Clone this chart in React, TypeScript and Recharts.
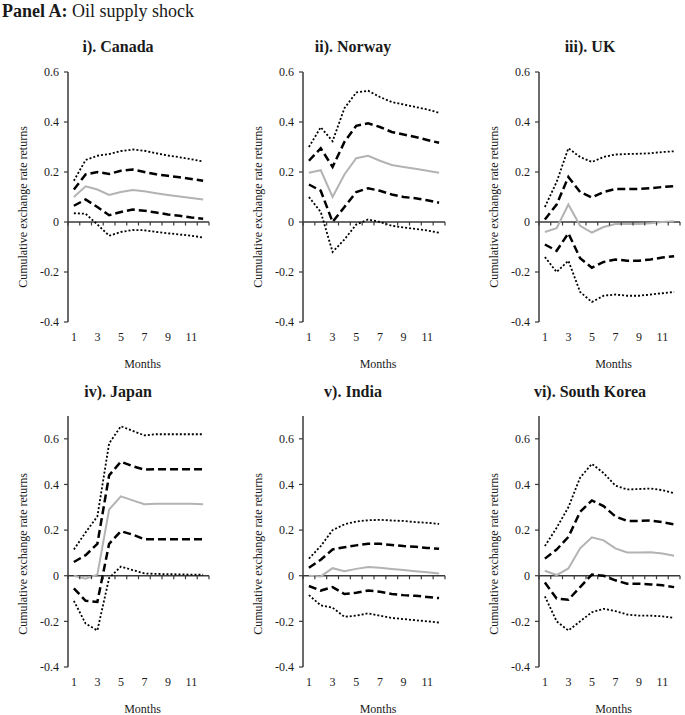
import React from 'react';
import { LineChart, Line, XAxis, YAxis, ReferenceLine, ReferenceDot } from 'recharts';

const FONT = "'Liberation Serif', 'Times New Roman', serif";
const AXIS = '#3a3a3a';
const TEXT = '#1a1a1a';

const months = [1, 2, 3, 4, 5, 6, 7, 8, 9, 10, 11, 12];
const xTicks = [1, 3, 5, 7, 9, 11];
const yTicks = [-0.4, -0.2, 0, 0.2, 0.4, 0.6];
const boundaries = [0.5, 1.5, 2.5, 3.5, 4.5, 5.5, 6.5, 7.5, 8.5, 9.5, 10.5, 11.5, 12.5];

// Canada
const canadaHi2 = [0.165, 0.248, 0.265, 0.272, 0.284, 0.29, 0.285, 0.275, 0.266, 0.259, 0.251, 0.242];
const canadaHi1 = [0.13, 0.19, 0.2, 0.192, 0.205, 0.21, 0.2, 0.191, 0.185, 0.179, 0.172, 0.165];
const canadaMid = [0.1, 0.143, 0.13, 0.108, 0.12, 0.128, 0.123, 0.115, 0.108, 0.102, 0.096, 0.09];
const canadaLo1 = [0.065, 0.09, 0.06, 0.027, 0.04, 0.05, 0.045, 0.038, 0.03, 0.025, 0.018, 0.013];
const canadaLo2 = [0.035, 0.033, -0.01, -0.055, -0.04, -0.032, -0.033, -0.04, -0.045, -0.05, -0.055, -0.062];

// Norway
const norwayHi2 = [0.3, 0.379, 0.323, 0.455, 0.518, 0.525, 0.5, 0.48, 0.47, 0.46, 0.45, 0.437];
const norwayHi1 = [0.245, 0.295, 0.22, 0.32, 0.385, 0.395, 0.38, 0.36, 0.35, 0.34, 0.328, 0.317];
const norwayMid = [0.197, 0.207, 0.1, 0.19, 0.255, 0.265, 0.245, 0.228, 0.22, 0.213, 0.205, 0.197];
const norwayLo1 = [0.15, 0.125, 0.0, 0.06, 0.12, 0.135, 0.125, 0.11, 0.1, 0.095, 0.087, 0.077];
const norwayLo2 = [0.1, 0.04, -0.12, -0.07, -0.01, 0.01, 0.0, -0.015, -0.022, -0.028, -0.034, -0.043];

// UK
const ukHi2 = [0.06, 0.16, 0.295, 0.26, 0.24, 0.26, 0.27, 0.272, 0.273, 0.275, 0.28, 0.283];
const ukHi1 = [0.01, 0.07, 0.18, 0.12, 0.098, 0.12, 0.132, 0.132, 0.132, 0.135, 0.14, 0.143];
const ukMid = [-0.04, -0.025, 0.07, -0.015, -0.042, -0.02, -0.008, -0.008, -0.008, -0.005, 0.0, 0.003];
const ukLo1 = [-0.09, -0.115, -0.045, -0.145, -0.183, -0.16, -0.15, -0.155, -0.155, -0.15, -0.142, -0.137];
const ukLo2 = [-0.14, -0.2, -0.155, -0.28, -0.32, -0.295, -0.29, -0.295, -0.295, -0.29, -0.285, -0.28];

// Japan
const japanHi2 = [0.115, 0.19, 0.26, 0.58, 0.655, 0.635, 0.615, 0.62, 0.62, 0.62, 0.62, 0.62];
const japanHi1 = [0.06, 0.09, 0.14, 0.44, 0.5, 0.48, 0.465, 0.467, 0.467, 0.467, 0.467, 0.467];
const japanMid = [0.0, -0.013, 0.005, 0.29, 0.348, 0.33, 0.313, 0.315, 0.315, 0.315, 0.315, 0.313];
const japanLo1 = [-0.055, -0.11, -0.115, 0.14, 0.195, 0.18, 0.16, 0.16, 0.16, 0.16, 0.16, 0.16];
const japanLo2 = [-0.11, -0.21, -0.24, -0.01, 0.04, 0.025, 0.01, 0.008, 0.007, 0.006, 0.005, 0.005];

// India
const indiaHi2 = [0.075, 0.13, 0.2, 0.225, 0.238, 0.243, 0.245, 0.242, 0.24, 0.235, 0.232, 0.227];
const indiaHi1 = [0.035, 0.07, 0.115, 0.125, 0.133, 0.14, 0.14, 0.135, 0.13, 0.127, 0.122, 0.118];
const indiaMid = [0.0, -0.003, 0.033, 0.02, 0.03, 0.038, 0.035, 0.03, 0.025, 0.02, 0.015, 0.01];
const indiaLo1 = [-0.045, -0.065, -0.05, -0.08, -0.075, -0.065, -0.07, -0.08, -0.085, -0.088, -0.093, -0.098];
const indiaLo2 = [-0.085, -0.13, -0.14, -0.18, -0.175, -0.165, -0.175, -0.185, -0.19, -0.195, -0.2, -0.205];

// South Korea
const koreaHi2 = [0.13, 0.21, 0.3, 0.43, 0.49, 0.45, 0.395, 0.378, 0.38, 0.382, 0.375, 0.362];
const koreaHi1 = [0.075, 0.115, 0.17, 0.28, 0.33, 0.305, 0.26, 0.24, 0.24, 0.242, 0.235, 0.225];
const koreaMid = [0.022, 0.003, 0.032, 0.12, 0.168, 0.155, 0.12, 0.102, 0.102, 0.103, 0.097, 0.088];
const koreaLo1 = [-0.03, -0.1, -0.105, -0.05, 0.005, 0.0, -0.02, -0.035, -0.035, -0.038, -0.042, -0.05];
const koreaLo2 = [-0.09, -0.2, -0.24, -0.2, -0.16, -0.145, -0.155, -0.17, -0.175, -0.175, -0.178, -0.185];

const panels = [
  { title: 'i). Canada', hi2: canadaHi2, hi1: canadaHi1, mid: canadaMid, lo1: canadaLo1, lo2: canadaLo2, yMax: 0.6, axisX: 68, pw: 141, plotTop: 72, ph: 250, titleX: 118, titleY: 52, yLabelShift: 135 },
  { title: 'ii). Norway', hi2: norwayHi2, hi1: norwayHi1, mid: norwayMid, lo1: norwayLo1, lo2: norwayLo2, yMax: 0.6, axisX: 303, pw: 142, plotTop: 72, ph: 250, titleX: 353, titleY: 52, yLabelShift: 135 },
  { title: 'iii). UK', hi2: ukHi2, hi1: ukHi1, mid: ukMid, lo1: ukLo1, lo2: ukLo2, yMax: 0.6, axisX: 539, pw: 141, plotTop: 72, ph: 250, titleX: 590, titleY: 52, yLabelShift: 135 },
  { title: 'iv). Japan', hi2: japanHi2, hi1: japanHi1, mid: japanMid, lo1: japanLo1, lo2: japanLo2, yMax: 0.7, axisX: 68, pw: 141, plotTop: 416, ph: 251, titleX: 118, titleY: 397, yLabelShift: 138 },
  { title: 'v). India', hi2: indiaHi2, hi1: indiaHi1, mid: indiaMid, lo1: indiaLo1, lo2: indiaLo2, yMax: 0.7, axisX: 303, pw: 142, plotTop: 416, ph: 251, titleX: 353, titleY: 397, yLabelShift: 138 },
  { title: 'vi). South Korea', hi2: koreaHi2, hi1: koreaHi1, mid: koreaMid, lo1: koreaLo1, lo2: koreaLo2, yMax: 0.7, axisX: 539, pw: 141, plotTop: 416, ph: 251, titleX: 590, titleY: 397, yLabelShift: 138 },
];

const tickStyle = { fontSize: 12, fill: TEXT, fontFamily: FONT };

function Panel({ p }: { p: any }) {
  const data = months.map((m, i) => ({
    month: m,
    hi2: p.hi2[i],
    hi1: p.hi1[i],
    mid: p.mid[i],
    lo1: p.lo1[i],
    lo2: p.lo2[i],
  }));
  const ML = 28;
  const YW = 40;
  const MT = 42;
  const XH = 52;
  const MR = 8;
  const width = ML + YW + p.pw + MR;
  const height = MT + p.ph + XH;

  const xLabel = (lp: any) => {
    const vb = lp.viewBox || {};
    return (
      <text x={vb.x + vb.width / 2 + 4} y={vb.y + 46} textAnchor="middle" fontSize={12} fontFamily={FONT} fill={TEXT}>
        Months
      </text>
    );
  };
  const yLabel = (lp: any) => {
    const vb = lp.viewBox || {};
    const cx = vb.x + vb.width - 41;
    const cy = vb.y + p.yLabelShift;
    return (
      <text x={cx} y={cy} transform={`rotate(-90 ${cx} ${cy})`} textAnchor="middle" fontSize={12} fontFamily={FONT} fill={TEXT}>
        Cumulative exchange rate returns
      </text>
    );
  };

  return (
    <div style={{ position: 'absolute', left: p.axisX - ML - YW, top: p.plotTop - MT }}>
      <LineChart width={width} height={height} data={data} margin={{ top: MT, right: MR, left: ML, bottom: 0 }}>
        <XAxis
          dataKey="month"
          type="number"
          domain={[0.5, 12.5]}
          ticks={xTicks}
          interval={0}
          axisLine={false}
          tickLine={false}
          tickSize={0}
          tickMargin={10}
          height={XH}
          tick={tickStyle}
          label={{ content: xLabel }}
        />
        <YAxis
          type="number"
          domain={[-0.4, p.yMax]}
          ticks={yTicks}
          interval={0}
          width={YW}
          axisLine={{ stroke: AXIS, strokeWidth: 1.5 }}
          tickLine={{ stroke: AXIS, strokeWidth: 1.2 }}
          tickSize={4}
          tickMargin={5}
          tick={tickStyle}
          allowDataOverflow
          label={{ content: yLabel }}
        />
        <ReferenceLine y={0} stroke={AXIS} strokeWidth={1.5} />
        {boundaries.map((b) => (
          <ReferenceDot
            key={b}
            x={b}
            y={0}
            r={0}
            shape={(sp: any) => (
              <line x1={sp.cx} y1={sp.cy} x2={sp.cx} y2={sp.cy + 3.5} stroke={AXIS} strokeWidth={1.2} />
            )}
          />
        ))}
        <Line type="linear" dataKey="hi2" stroke="#000" strokeWidth={1.8} strokeDasharray="2 2" dot={false} isAnimationActive={false} />
        <Line type="linear" dataKey="hi1" stroke="#000" strokeWidth={2.5} strokeDasharray="8 4" dot={false} isAnimationActive={false} />
        <Line type="linear" dataKey="mid" stroke="#b3b3b3" strokeWidth={2} dot={false} isAnimationActive={false} />
        <Line type="linear" dataKey="lo1" stroke="#000" strokeWidth={2.5} strokeDasharray="8 4" dot={false} isAnimationActive={false} />
        <Line type="linear" dataKey="lo2" stroke="#000" strokeWidth={1.8} strokeDasharray="2 2" dot={false} isAnimationActive={false} />
      </LineChart>
    </div>
  );
}

export default function App() {
  return (
    <div style={{ position: 'absolute', left: 0, top: 0, width: 685, height: 715, background: '#fff', overflow: 'hidden' }}>
      {panels.map((p) => (
        <Panel key={p.title} p={p} />
      ))}
      <svg width={685} height={715} style={{ position: 'absolute', left: 0, top: 0, pointerEvents: 'none' }}>
        <text x={2} y={17} fontSize={18} fontFamily={FONT} fill={TEXT}>
          <tspan fontWeight="bold">Panel A:</tspan>
          <tspan> Oil supply shock</tspan>
        </text>
        {panels.map((p) => (
          <text key={p.title} x={p.titleX} y={p.titleY} textAnchor="middle" fontSize={16} fontWeight="bold" fontFamily={FONT} fill={TEXT}>
            {p.title}
          </text>
        ))}
      </svg>
    </div>
  );
}
